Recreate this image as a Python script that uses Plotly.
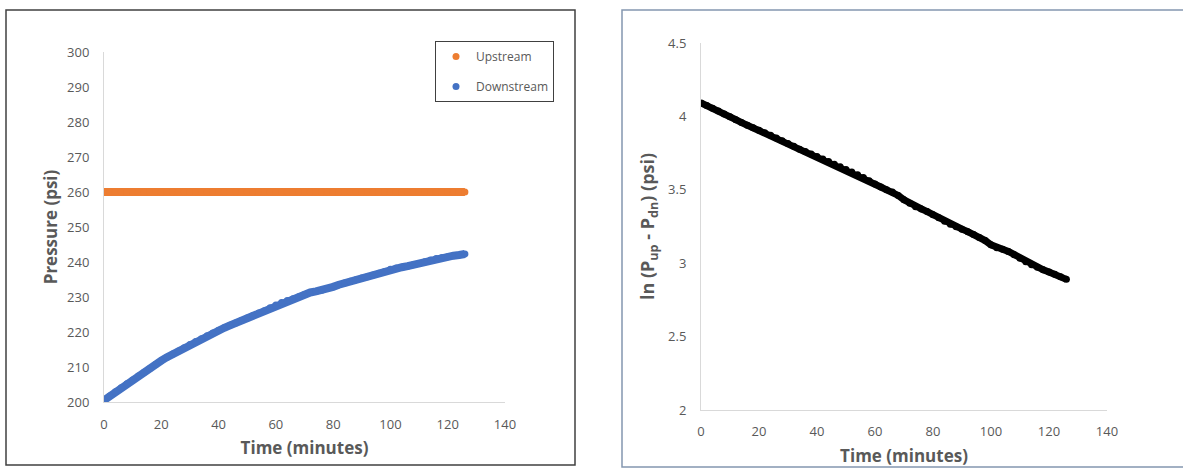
import plotly.graph_objects as go

# ---- data ----
time_min = [0, 2, 4, 6, 8, 10, 12, 14, 16, 18, 20, 22, 24, 26, 28, 30, 32, 34, 36, 38,
            40, 42, 44, 46, 48, 50, 52, 54, 56, 58, 60, 62, 64, 66, 68, 70, 72, 74, 76, 78,
            80, 82, 84, 86, 88, 90, 92, 94, 96, 98, 100, 102, 104, 106, 108, 110, 112, 114,
            116, 118, 120, 122, 124, 126]

upstream_psi = [260.0, 260.0, 260.0, 260.0, 260.0, 260.0, 260.0, 260.0, 260.0, 260.0,
                260.0, 260.0, 260.0, 260.0, 260.0, 260.0, 260.0, 260.0, 260.0, 260.0,
                260.0, 260.0, 260.0, 260.0, 260.0, 260.0, 260.0, 260.0, 260.0, 260.0,
                260.0, 260.0, 260.0, 260.0, 260.0, 260.0, 260.0, 260.0, 260.0, 260.0,
                260.0, 260.0, 260.0, 260.0, 260.0, 260.0, 260.0, 260.0, 260.0, 260.0,
                260.0, 260.0, 260.0, 260.0, 260.0, 260.0, 260.0, 260.0, 260.0, 260.0,
                260.0, 260.0, 260.0, 260.0]

downstream_psi = [200.5, 201.7, 202.9, 204.1, 205.2, 206.3, 207.4, 208.5, 209.6, 210.7,
                  211.8, 212.8, 213.7, 214.6, 215.5, 216.4, 217.3, 218.1, 218.9, 219.7,
                  220.5, 221.2, 221.9, 222.6, 223.3, 224.0, 224.7, 225.4, 226.1, 226.9,
                  227.7, 228.4, 229.0, 229.5, 230.1, 230.7, 231.3, 231.6, 231.9, 232.4,
                  232.9, 233.5, 234.0, 234.5, 234.9, 235.4, 235.8, 236.3, 236.8, 237.3,
                  237.9, 238.3, 238.5, 238.8, 239.2, 239.6, 240.1, 240.6, 241.0, 241.3,
                  241.5, 241.8, 242.0, 242.3]

ln_dp = [4.092, 4.075, 4.056, 4.036, 4.017, 3.998, 3.978, 3.958, 3.940, 3.922,
         3.905, 3.888, 3.871, 3.853, 3.834, 3.816, 3.797, 3.777, 3.761, 3.744,
         3.727, 3.710, 3.692, 3.674, 3.657, 3.639, 3.621, 3.602, 3.584, 3.562,
         3.540, 3.519, 3.500, 3.485, 3.462, 3.432, 3.408, 3.385, 3.370, 3.352,
         3.330, 3.310, 3.285, 3.266, 3.248, 3.232, 3.215, 3.196, 3.175, 3.154,
         3.125, 3.105, 3.095, 3.080, 3.058, 3.034, 3.010, 2.990, 2.972, 2.955,
         2.940, 2.925, 2.908, 2.890]

x_ticks = [0, 20, 40, 60, 80, 100, 120, 140]

W, H = 1183, 472
def px(x):
    return x / W
def py(y):
    return 1 - y / H

TICK_FONT = dict(family="Open Sans", size=13, color="#595959")
TITLE_FONT = dict(family="Open Sans", size=17, color="#595959", weight=700)
TITLE_FONT_R = dict(family="Open Sans", size=18, color="#595959", weight=700)
AXIS_LINE = "#d9d9d9"
ORANGE = "#ED7D31"
BLUE = "#4472C4"

fig = go.Figure()

# continuous band under the dense markers (as in the spreadsheet chart)
fig.add_trace(go.Scatter(x=time_min, y=upstream_psi, mode="lines", line=dict(color=ORANGE, width=8),
                         xaxis="x", yaxis="y", showlegend=False, hoverinfo="skip"))
fig.add_trace(go.Scatter(x=time_min, y=downstream_psi, mode="lines", line=dict(color=BLUE, width=8),
                         xaxis="x", yaxis="y", showlegend=False, hoverinfo="skip"))
fig.add_trace(go.Scatter(x=time_min, y=ln_dp, mode="lines", line=dict(color="#000000", width=7),
                         xaxis="x2", yaxis="y2", showlegend=False, hoverinfo="skip"))

fig.add_trace(go.Scatter(
    x=time_min, y=upstream_psi, name="Upstream", mode="markers",
    marker=dict(color=ORANGE, size=7, line=dict(width=0)),
    xaxis="x", yaxis="y", legendgroup="a"))
fig.add_trace(go.Scatter(
    x=time_min, y=downstream_psi, name="Downstream", mode="markers",
    marker=dict(color=BLUE, size=7, line=dict(width=0)),
    xaxis="x", yaxis="y", legendgroup="b"))
fig.add_trace(go.Scatter(
    x=time_min, y=ln_dp, name="ln(Pup - Pdn)", mode="markers",
    marker=dict(color="#000000", size=7, line=dict(width=0)),
    xaxis="x2", yaxis="y2", showlegend=False))

common_axis = dict(showline=True, linecolor=AXIS_LINE, linewidth=1, showgrid=False,
                   zeroline=False, ticks="", tickfont=TICK_FONT, fixedrange=True,
                   automargin=False)

fig.update_layout(
    template="none",
    width=W, height=H,
    margin=dict(l=0, r=0, t=0, b=0, pad=0),
    paper_bgcolor="white", plot_bgcolor="white",
    xaxis=dict(domain=[px(104), px(505)], range=[0, 140], tickvals=x_ticks,
               anchor="y", ticklabelstandoff=10,
               title=dict(text="Time (minutes)", font=TITLE_FONT, standoff=10),
               **common_axis),
    yaxis=dict(domain=[py(402), py(52)], range=[200, 300], dtick=10,
               anchor="x", ticklabelstandoff=11,
               title=dict(text="Pressure (psi)", font=TITLE_FONT, standoff=5),
               **common_axis),
    xaxis2=dict(domain=[px(701), px(1107)], range=[0, 140], tickvals=x_ticks,
                anchor="y2", ticklabelstandoff=9,
                title=dict(text="Time (minutes)", font=TITLE_FONT, standoff=11),
                **common_axis),
    yaxis2=dict(domain=[py(410), py(43)], range=[2, 4.5], dtick=0.5,
                anchor="x2", ticklabelstandoff=11,
                title=dict(text="ln (P<sub>up</sub> - P<sub>dn</sub>) (psi)",
                           font=TITLE_FONT_R, standoff=8),
                **common_axis),
    legend=dict(x=px(435), y=py(41), xanchor="left", yanchor="top",
                bordercolor="#404040", borderwidth=1, bgcolor="white",
                font=dict(family="Open Sans", size=12, color="#595959"),
                tracegroupgap=11, itemsizing="trace", itemwidth=30),
    showlegend=True,
    shapes=[
        dict(type="rect", xref="paper", yref="paper",
             x0=px(6), x1=px(575), y0=py(465), y1=py(10),
             line=dict(color="#404040", width=1.5)),
        dict(type="rect", xref="paper", yref="paper",
             x0=px(622), x1=1.02, y0=py(467), y1=py(10),
             line=dict(color="#8497b0", width=1.5)),
    ],
)

fig.write_html("out.html", config={"displayModeBar": False},
               post_script="document.body.style.margin='0px';")
